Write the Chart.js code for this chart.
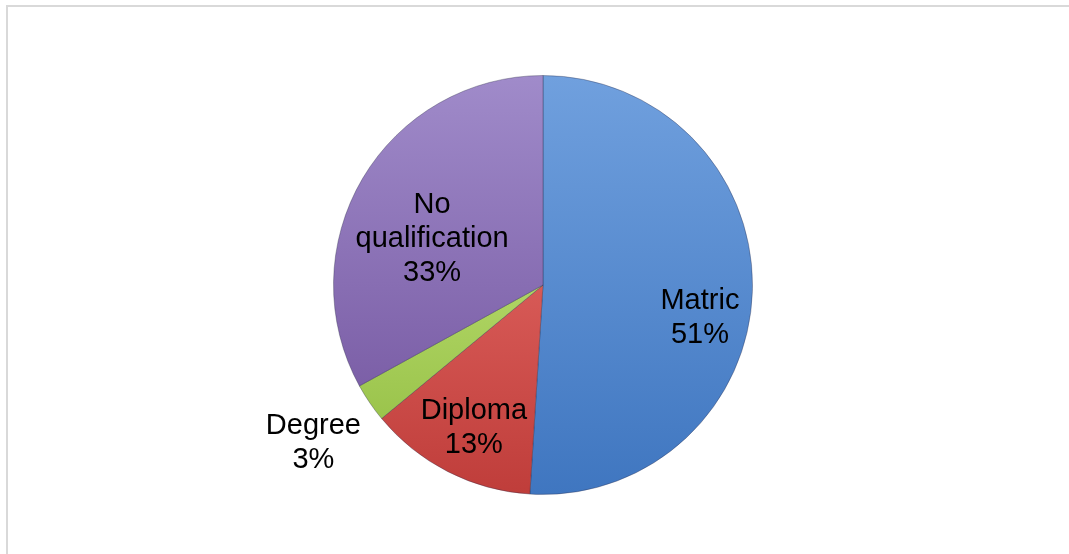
<!DOCTYPE html>
<html>
<head>
<meta charset="utf-8">
<script src="https://cdn.jsdelivr.net/npm/chart.js@4"></script>
<style>
  body { margin: 0; background: #fff; overflow: hidden; }
  #frame { position: absolute; left: 6px; top: 5px; width: 1100px; height: 600px; border: 2px solid #d9d9d9; }
  #wrap { position: absolute; left: 0; top: 0; width: 1069px; height: 554px; }
</style>
</head>
<body>
<div id="frame"></div>
<div id="wrap"><canvas id="myChart"></canvas></div>
<script>
const categories = ['Matric', 'Diploma', 'Degree', 'No\nqualification']
const shares = [51, 13, 3, 33]

// top / bottom shade for each slice
const topColors = ['#70a0de', '#f07773', '#d0f08a', '#a08bca']
const bottomColors = ['#3f76c0', '#bf3d3a', '#8fba3e', '#6f509b']

// where each label sits: fraction of radius and angle shift (degrees)
const labelRadius = [0.765, 0.758, 1.33, 0.573]
const labelShift = [9.9, -1.2, -0.3, -8.1]

function sliceFill(ctx) {
    const area = ctx.chart.chartArea
    if (!area) return topColors[ctx.dataIndex]
    const g = ctx.chart.ctx.createLinearGradient(0, area.top, 0, area.bottom)
    g.addColorStop(0, topColors[ctx.dataIndex])
    g.addColorStop(1, bottomColors[ctx.dataIndex])
    return g
}

const sliceLabels = {
    id: 'sliceLabels',
    afterDatasetsDraw(chart) {
        const c = chart.ctx
        const meta = chart.getDatasetMeta(0)
        c.save()
        c.fillStyle = '#000'
        c.font = '29px "Liberation Sans", Arial, sans-serif'
        c.textAlign = 'center'
        c.textBaseline = 'middle'
        meta.data.forEach((arc, i) => {
            const p = arc.getProps(['x', 'y', 'startAngle', 'endAngle', 'outerRadius'], true)
            const a = (p.startAngle + p.endAngle) / 2 + labelShift[i] * Math.PI / 180
            const r = p.outerRadius * labelRadius[i]
            const cx = p.x + Math.cos(a) * r
            const cy = p.y + Math.sin(a) * r
            const lines = categories[i].split('\n').concat([shares[i] + '%'])
            const lh = 34
            lines.forEach((t, k) => {
                c.fillText(t, cx, cy + (k - (lines.length - 1) / 2) * lh)
            })
        })
        c.restore()
    }
}

const data = {
    labels: categories,
    datasets: [{
        data: shares,
        backgroundColor: sliceFill,
        borderColor: 'rgba(40, 40, 70, 0.35)',
        borderWidth: 1
    }]
}

const config = {
    type: 'pie',
    data: data,
    options: {
        responsive: true,
        maintainAspectRatio: false,
        animation: false,
        layout: { padding: { left: 333, right: 316, top: 75, bottom: 59 } },
        plugins: {
            legend: { display: false },
            tooltip: { enabled: false }
        }
    },
    plugins: [sliceLabels]
}

var myChart = new Chart(
    document.getElementById('myChart'),
    config
)
</script>
</body>
</html>
